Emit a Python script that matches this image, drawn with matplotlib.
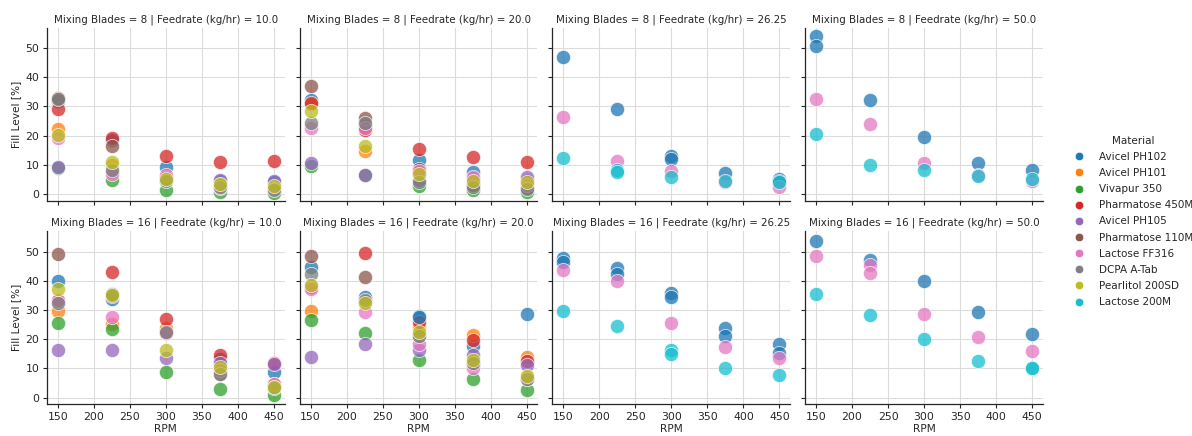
import matplotlib
matplotlib.use("Agg")
import matplotlib.pyplot as plt
from matplotlib.lines import Line2D

rpm = [150, 225, 300, 375, 450]
materials = ["Avicel PH102", "Avicel PH101", "Vivapur 350", "Pharmatose 450M",
             "Avicel PH105", "Pharmatose 110M", "Lactose FF316", "DCPA A-Tab",
             "Pearlitol 200SD", "Lactose 200M"]
colors = ["#1f77b4", "#ff7f0e", "#2ca02c", "#d62728", "#9467bd",
          "#8c564b", "#e377c2", "#7f7f7f", "#bcbd22", "#17becf"]
blades = [8, 16]
feedrates = ["10.0", "20.0", "26.25", "50.0"]

# Fill level [%] at rpm 150, 225, 300, 375, 450 (None = no point); rows may repeat a material
b8_f10 = [
    ("Avicel PH102",    [32.0, 18.6, 9.2, 4.5, 4.0]),
    ("Avicel PH101",    [22.3, 10.0, 6.0, 3.0, 2.5]),
    ("Vivapur 350",     [9.0, 5.0, 1.3, 0.7, 0.5]),
    ("Pharmatose 450M", [29.3, 19.3, 13.2, 10.9, 11.3]),
    ("Avicel PH105",    [9.3, 7.6, 5.0, 5.0, 4.4]),
    ("Pharmatose 110M", [32.9, 16.5, 5.5, 3.0, 2.0]),
    ("Lactose FF316",   [19.1, 7.0, 6.5, 2.0, 1.8]),
    ("DCPA A-Tab",      [32.5, 8.4, 4.5, 2.5, 1.5]),
    ("Pearlitol 200SD", [20.4, 10.9, 5.1, 3.3, 2.7]),
]
b8_f20 = [
    ("Avicel PH102",    [32.2, 23.3, 11.7, 7.6, 5.0]),
    ("Avicel PH101",    [31.0, 14.6, 7.5, 5.0, 4.5]),
    ("Vivapur 350",     [9.6, 6.5, 2.7, 1.4, 0.8]),
    ("Pharmatose 450M", [31.1, 21.9, 15.3, 12.6, 11.0]),
    ("Avicel PH105",    [10.7, 6.4, 5.0, 5.5, 5.7]),
    ("Pharmatose 110M", [37.0, 26.0, 8.7, 3.0, 2.0]),
    ("Lactose FF316",   [22.7, 22.5, 8.0, 6.0, 3.0]),
    ("DCPA A-Tab",      [24.3, 24.5, 4.1, 2.5, 1.8]),
    ("Pearlitol 200SD", [28.4, 16.3, 6.8, 4.6, 4.2]),
]
b8_f26 = [
    ("Avicel PH102",  [46.9, 29.2, 12.9, 7.1, 5.2]),
    ("Avicel PH102",  [None, None, 12.1, None, 4.6]),
    ("Lactose FF316", [26.5, 11.2, 8.0, 4.0, 2.6]),
    ("Lactose 200M",  [12.2, 8.2, 5.9, 4.6, 4.2]),
    ("Lactose 200M",  [None, 7.6, None, None, None]),
]
b8_f50 = [
    ("Avicel PH102",  [54.2, 32.1, 19.7, 10.6, 8.1]),
    ("Avicel PH102",  [50.7, None, None, None, None]),
    ("Lactose FF316", [32.6, 24.0, 10.7, 6.5, 4.5]),
    ("Lactose 200M",  [20.5, 10.1, 8.1, 6.1, 5.3]),
]
b16_f10 = [
    ("Avicel PH102",    [40.0, 33.6, 22.5, 13.2, 8.7]),
    ("Avicel PH101",    [29.7, 25.3, 23.8, 9.5, 4.5]),
    ("Vivapur 350",     [25.4, 23.5, 8.6, 2.8, 1.0]),
    ("Pharmatose 450M", [33.0, 43.0, 26.9, 14.6, 12.0]),
    ("Avicel PH105",    [16.3, 16.3, 13.6, 11.9, 11.5]),
    ("Pharmatose 110M", [49.3, 34.8, 22.2, 8.2, 3.5]),
    ("Lactose FF316",   [33.4, 27.7, 22.0, 9.5, 4.7]),
    ("DCPA A-Tab",      [32.5, 35.5, 22.5, 8.0, 3.4]),
    ("Pearlitol 200SD", [37.2, 35.0, 16.3, 10.5, 3.8]),
]
b16_f20 = [
    ("Avicel PH102",    [44.8, 34.4, 28.0, 17.5, 28.6]),
    ("Avicel PH101",    [29.5, 33.0, 24.0, 21.3, 13.8]),
    ("Vivapur 350",     [26.4, 22.1, 12.8, 6.2, 2.6]),
    ("Pharmatose 450M", [38.0, 49.5, 26.0, 19.6, 12.7]),
    ("Avicel PH105",    [13.8, 18.3, 16.3, 14.5, 11.3]),
    ("Pharmatose 110M", [48.4, 41.3, 21.2, 11.6, 6.2]),
    ("Lactose FF316",   [37.3, 29.3, 18.5, 10.1, 7.0]),
    ("DCPA A-Tab",      [42.3, 33.3, 21.0, 12.0, 6.5]),
    ("Pearlitol 200SD", [38.5, 32.5, 22.5, 13.0, 7.5]),
    ("Avicel PH102",    [None, None, 27.5, None, None]),
]
b16_f26 = [
    ("Avicel PH102",  [47.7, 44.4, 35.9, 23.7, 18.3]),
    ("Avicel PH102",  [46.5, 42.3, 34.5, 21.0, 15.3]),
    ("Lactose FF316", [43.6, 39.9, 25.7, 17.3, 13.7]),
    ("Lactose 200M",  [29.5, 24.6, 16.2, 10.1, 7.7]),
    ("Lactose 200M",  [None, None, 14.9, None, None]),
]
b16_f50 = [
    ("Avicel PH102",  [53.5, 47.1, 39.9, 29.4, 21.9]),
    ("Lactose FF316", [48.3, 45.4, 28.7, 20.6, 15.9]),
    ("Lactose FF316", [None, 42.5, None, None, None]),
    ("Lactose 200M",  [35.5, 28.3, 20.2, 12.4, 10.3]),
    ("Lactose 200M",  [None, None, None, None, 10.1]),
]

panels = [[b8_f10, b8_f20, b8_f26, b8_f50],
          [b16_f10, b16_f20, b16_f26, b16_f50]]

plt.rcParams["font.family"] = ["DejaVu Sans"]
color_of = dict(zip(materials, colors))
TXT = "#262626"

fig, axes = plt.subplots(2, 4, figsize=(11.92, 4.36), dpi=100, sharex=True, sharey=True)
fig.subplots_adjust(left=0.0394, right=0.875, bottom=0.0734, top=0.936,
                    wspace=0.063, hspace=0.179)

for r in range(2):
    for c in range(4):
        ax = axes[r, c]
        ax.set_axisbelow(True)
        ax.grid(True, color="#dcdcdc", linewidth=0.8)
        for name, vals in panels[r][c]:
            xs = [x for x, v in zip(rpm, vals) if v is not None]
            ys = [v for v in vals if v is not None]
            ax.scatter(xs, ys, s=105, color=color_of[name], alpha=0.75,
                       edgecolor="white", linewidth=0.6, zorder=3)
        ax.set_title(f"Mixing Blades = {blades[r]} | Feedrate (kg/hr) = {feedrates[c]}",
                     fontsize=7.4, color=TXT, pad=4)
        for side in ("top", "right"):
            ax.spines[side].set_visible(False)
        for side in ("left", "bottom"):
            ax.spines[side].set_color(TXT)
            ax.spines[side].set_linewidth(0.9)
        ax.tick_params(labelsize=7.8, colors=TXT, length=3, width=0.8, pad=2.5)
        if r == 1:
            ax.set_xlabel("RPM", fontsize=7.6, color=TXT, labelpad=1.5)
        if c == 0:
            ax.set_ylabel("Fill Level [%]", fontsize=7.6, color=TXT, labelpad=3)

ax0 = axes[0, 0]
ax0.set_xticks([150, 200, 250, 300, 350, 400, 450])
ax0.set_yticks([0, 10, 20, 30, 40, 50])
ax0.margins(x=0.05, y=0.05)

handles = [Line2D([0], [0], marker="o", linestyle="", markersize=6,
                  markerfacecolor=col, markeredgecolor="white", markeredgewidth=0.4)
           for col in colors]
leg = fig.legend(handles, materials, title="Material", loc="center left",
                 bbox_to_anchor=(0.893, 0.492), frameon=False, fontsize=7.5,
                 title_fontsize=7.5, handletextpad=1.4, labelspacing=0.59,
                 handlelength=1.0)
for t in leg.get_texts():
    t.set_color(TXT)
leg.get_title().set_color(TXT)

fig.savefig("out.png", dpi=100)
